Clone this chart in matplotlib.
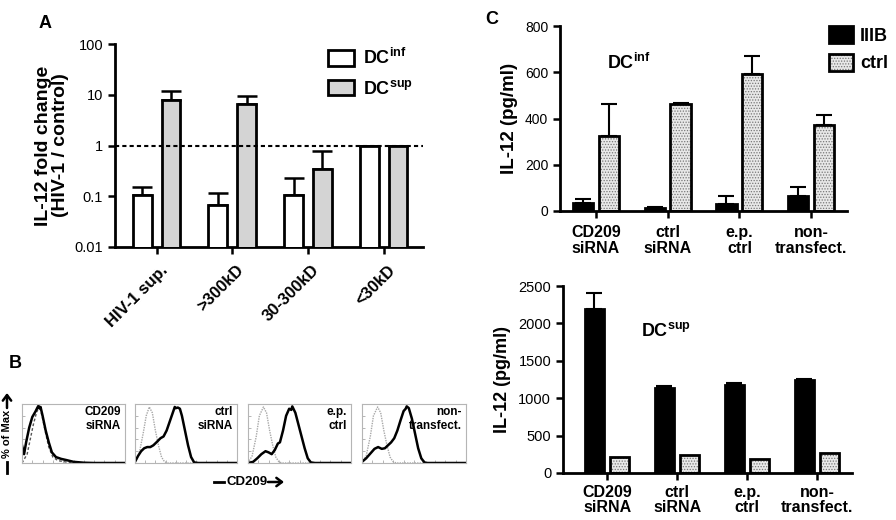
"""
IL-12 panels A, B, C - redraw of the figure
"""

import matplotlib
matplotlib.use("Agg")
import matplotlib.pyplot as plt
import matplotlib.transforms as mtransforms
from matplotlib.patches import Patch, FancyArrowPatch
from matplotlib.legend_handler import HandlerTuple

plt.rcParams['font.family'] = ['Liberation Sans', 'DejaVu Sans']
plt.rcParams['mathtext.fontset'] = 'custom'
plt.rcParams['mathtext.rm'] = 'Liberation Sans'
plt.rcParams['mathtext.bf'] = 'Liberation Sans:bold'
plt.rcParams['hatch.linewidth'] = 0.6

#==================== panel A data
a_cats = ["HIV-1 sup.", ">300kD", "30-300kD", "<30kD"]
a_inf = [0.105, 0.067, 0.105, 0.97]
a_inf_err = [0.045, 0.048, 0.125, 0.02]
a_sup = [7.8, 6.7, 0.35, 1.0]
a_sup_err = [3.9, 2.8, 0.42, 0.0]
a_yticks = [0.01, 0.1, 1, 10, 100]
a_ylabels = ["0.01", "0.1", "1", "10", "100"]

#==================== panel C data
c_cats = ["CD209\nsiRNA", "ctrl\nsiRNA", "e.p.\nctrl", "non-\ntransfect."]
c_inf_iiib = [36, 12, 31, 66]
c_inf_iiib_err = [14, 4, 34, 38]
c_inf_ctrl = [326, 461, 592, 372]
c_inf_ctrl_err = [135, 5, 79, 44]
c_sup_iiib = [2190, 1134, 1183, 1245]
c_sup_iiib_err = [210, 31, 17, 18]
c_sup_ctrl = [220, 245, 190, 265]

#==================== panel B histograms (fraction of box width, fraction of max)
b_titles = ["CD209\nsiRNA", "ctrl\nsiRNA", "e.p.\nctrl", "non-\ntransfect."]

b1_x = [0.0, 0.02, 0.04, 0.07, 0.10, 0.13, 0.15, 0.16, 0.17, 0.18, 0.20, 0.23, 0.26,
        0.29, 0.33, 0.38, 0.43, 0.50, 0.60, 0.70, 1.0]
b1_y = [0.30, 0.15, 0.35, 0.60, 0.78, 0.87, 0.94, 0.97, 0.93, 0.95, 0.80, 0.55, 0.35,
        0.18, 0.10, 0.07, 0.05, 0.02, 0.005, 0.0, 0.0]
b1_ref_x = [0.0, 0.05, 0.08, 0.11, 0.14, 0.16, 0.18, 0.20, 0.23, 0.26, 0.30, 0.35,
            0.45, 0.55, 1.0]
b1_ref_y = [0.0, 0.15, 0.40, 0.65, 0.85, 0.93, 0.90, 0.75, 0.50, 0.27, 0.10, 0.04,
            0.01, 0.0, 0.0]

b2_x = [0.0, 0.03, 0.06, 0.09, 0.12, 0.15, 0.18, 0.21, 0.25, 0.28, 0.31, 0.34, 0.37,
        0.39, 0.40, 0.42, 0.44, 0.46, 0.49, 0.52, 0.55, 0.58, 0.62, 1.0]
b2_y = [0.02, 0.12, 0.20, 0.25, 0.27, 0.27, 0.30, 0.35, 0.42, 0.45, 0.55, 0.70, 0.85,
        0.95, 0.93, 0.94, 0.92, 0.80, 0.55, 0.30, 0.10, 0.01, 0.0, 0.0]
b2_ref_x = [0.0, 0.04, 0.08, 0.11, 0.14, 0.17, 0.20, 0.23, 0.26, 0.29, 0.32, 1.0]
b2_ref_y = [0.02, 0.15, 0.50, 0.80, 0.95, 0.85, 0.55, 0.30, 0.10, 0.02, 0.0, 0.0]

b3_x = [0.0, 0.05, 0.09, 0.13, 0.17, 0.20, 0.23, 0.26, 0.29, 0.31, 0.34, 0.37, 0.40,
        0.42, 0.43, 0.46, 0.49, 0.52, 0.55, 0.58, 0.61, 0.65, 1.0]
b3_y = [0.0, 0.02, 0.08, 0.15, 0.20, 0.18, 0.15, 0.22, 0.33, 0.35, 0.55, 0.80, 0.92,
        0.90, 0.96, 0.85, 0.65, 0.45, 0.25, 0.08, 0.01, 0.0, 0.0]
b3_ref_x = [0.0, 0.04, 0.08, 0.11, 0.15, 0.18, 0.21, 0.24, 0.27, 0.30, 0.33, 1.0]
b3_ref_y = [0.0, 0.12, 0.45, 0.80, 0.95, 0.85, 0.55, 0.30, 0.10, 0.02, 0.0, 0.0]

b4_x = [0.0, 0.04, 0.08, 0.12, 0.155, 0.19, 0.22, 0.25, 0.28, 0.31, 0.34, 0.37, 0.40,
        0.42, 0.43, 0.45, 0.48, 0.51, 0.54, 0.57, 0.60, 0.63, 1.0]
b4_y = [0.02, 0.08, 0.16, 0.24, 0.27, 0.24, 0.25, 0.30, 0.35, 0.42, 0.55, 0.72, 0.88,
        0.92, 0.96, 0.93, 0.75, 0.50, 0.25, 0.08, 0.01, 0.0, 0.0]
b4_ref_x = b3_ref_x
b4_ref_y = [0.01, 0.12, 0.45, 0.80, 0.95, 0.85, 0.55, 0.30, 0.10, 0.02, 0.0, 0.0]

b_black = [(b1_x, b1_y), (b2_x, b2_y), (b3_x, b3_y), (b4_x, b4_y)]
b_gray = [(b1_ref_x, b1_ref_y), (b2_ref_x, b2_ref_y), (b3_ref_x, b3_ref_y), (b4_ref_x, b4_ref_y)]

W, H = 896, 520
fig = plt.figure(figsize=(W / 100, H / 100), dpi=100)


def px_axes(left, top, right, bottom):
    return fig.add_axes([left / W, 1 - bottom / H, (right - left) / W, (bottom - top) / H])


def fpt(x, y):
    # pixel position (from top-left) to figure fraction
    return (x / W, 1 - y / H)


def styleBarAxes(ax, labelsize=10.5):
    for s in ["top", "right"]:
        ax.spines[s].set_visible(False)
    for s in ["left", "bottom"]:
        ax.spines[s].set_linewidth(2)
    ax.tick_params(axis="both", width=1.8, length=5, labelsize=labelsize)


def dottedBars(ax, x, vals, width):
    ax.bar(x, vals, width, color="#e8e8e8", edgecolor="#777777", hatch="......", linewidth=0, zorder=2)
    ax.bar(x, vals, width, fill=False, edgecolor="black", linewidth=2, zorder=3)


#==================== A
axA = px_axes(115, 44, 423, 247)
styleBarAxes(axA, 10.5)
xs = range(len(a_cats))
bw = 0.25
off = 0.19
xi = [i - off for i in xs]
xsu = [i + off for i in xs]
axA.bar(xi, a_inf, bw, color="white", edgecolor="black", linewidth=2, zorder=3)
axA.bar(xsu, a_sup, bw, color="#d4d4d4", edgecolor="black", linewidth=2, zorder=3)
axA.errorbar(xi, a_inf, yerr=[[0] * 4, a_inf_err], fmt="none", ecolor="black",
             elinewidth=1.8, capsize=7, capthick=1.8, zorder=2)
axA.errorbar(xsu, a_sup, yerr=[[0] * 4, a_sup_err], fmt="none", ecolor="black",
             elinewidth=1.8, capsize=7, capthick=1.8, zorder=2)
axA.set_yscale("log")
axA.set_ylim(0.01, 100)
axA.set_xlim(-0.55, 3.52)
axA.set_yticks(a_yticks)
axA.set_yticklabels(a_ylabels)
axA.minorticks_off()
axA.axhline(1, color="black", linestyle=(0, (2, 1.5)), linewidth=1.5, zorder=4)
axA.set_xticks(list(xs))
axA.set_xticklabels(a_cats, rotation=45, ha="right", va="center", rotation_mode="anchor",
                    fontweight="bold", fontsize=12)
shift = mtransforms.ScaledTranslation(9 / 100, -9 / 100, fig.dpi_scale_trans)
for lab in axA.get_xticklabels():
    lab.set_transform(lab.get_transform() + shift)
axA.set_ylabel("IL-12 fold change\n(HIV-1 / control)", fontweight="bold", fontsize=14,
               linespacing=1.0, labelpad=4)
hA = [Patch(facecolor="white", edgecolor="black", linewidth=2),
      Patch(facecolor="#d4d4d4", edgecolor="black", linewidth=2)]
axA.legend(hA, [r"DC$^{\mathbf{inf}}$", r"DC$^{\mathbf{sup}}$"], loc="upper left",
           bbox_to_anchor=(0.64, 1.06), frameon=False, handlelength=1.4, handleheight=0.95,
           prop={"weight": "bold", "size": 13}, labelspacing=0.65, handletextpad=0.5)
fig.text(*fpt(45, 23), "A", fontweight="bold", fontsize=13, ha="center", va="center")

#==================== C top
axC1 = px_axes(560, 26, 847, 211)
styleBarAxes(axC1, 10)
cw = 0.28
co = 0.18
cx1 = [i - co for i in xs]
cx2 = [i + co for i in xs]
axC1.bar(cx1, c_inf_iiib, cw, color="black", edgecolor="black", linewidth=2, zorder=3)
dottedBars(axC1, cx2, c_inf_ctrl, cw)
axC1.errorbar(cx1, c_inf_iiib, yerr=[[0] * 4, c_inf_iiib_err], fmt="none", ecolor="black",
              elinewidth=1.5, capsize=6, capthick=1.5, zorder=2)
axC1.errorbar(cx2, c_inf_ctrl, yerr=[[0] * 4, c_inf_ctrl_err], fmt="none", ecolor="black",
              elinewidth=1.5, capsize=6, capthick=1.5, zorder=2)
axC1.set_ylim(0, 800)
axC1.set_xlim(-0.5, 3.5)
axC1.set_yticks([0, 200, 400, 600, 800])
axC1.set_xticks(list(xs))
axC1.set_xticklabels(c_cats, fontweight="bold", fontsize=11.5, linespacing=1.1)
axC1.tick_params(axis="x", pad=5)
axC1.set_ylabel("IL-12 (pg/ml)", fontweight="bold", fontsize=13.5, labelpad=5)
axC1.text(0.165, 0.80, r"DC$^{\mathbf{inf}}$", transform=axC1.transAxes, fontweight="bold",
          fontsize=13, va="center")
fig.text(*fpt(492, 20), "C", fontweight="bold", fontsize=13, ha="center", va="center")

p_black = Patch(facecolor="black", edgecolor="black", linewidth=2)
p_dot = Patch(facecolor="#e8e8e8", edgecolor="#777777", hatch="......", linewidth=0)
p_edge = Patch(fill=False, edgecolor="black", linewidth=2)
fig.legend([p_black, (p_dot, p_edge)], ["IIIB", "ctrl"], loc="upper left",
           bbox_to_anchor=fpt(813, 10), frameon=False, handlelength=1.3,
           handleheight=1.05, prop={"weight": "bold", "size": 13}, labelspacing=0.5,
           handletextpad=0.4, handler_map={tuple: HandlerTuple(ndivide=1, pad=0)})

#==================== C bottom
axC2 = px_axes(563, 286, 852, 473)
styleBarAxes(axC2, 10.5)
axC2.bar(cx1, c_sup_iiib, cw, color="black", edgecolor="black", linewidth=2, zorder=3)
dottedBars(axC2, cx2, c_sup_ctrl, cw)
axC2.errorbar(cx1, c_sup_iiib, yerr=[[0] * 4, c_sup_iiib_err], fmt="none", ecolor="black",
              elinewidth=1.5, capsize=6, capthick=1.5, zorder=2)
axC2.set_ylim(0, 2500)
axC2.set_xlim(-0.63, 3.5)
axC2.set_yticks([0, 500, 1000, 1500, 2000, 2500])
axC2.set_xticks(list(xs))
axC2.set_xticklabels(c_cats, fontweight="bold", fontsize=11.5, linespacing=1.05)
axC2.set_ylabel("IL-12 (pg/ml)", fontweight="bold", fontsize=13, labelpad=5)
axC2.text(0.27, 0.76, r"DC$^{\mathbf{sup}}$", transform=axC2.transAxes, fontweight="bold",
          fontsize=13, va="center")

#==================== B
box_x = [(22, 125), (135, 237), (248, 351), (362, 466)]
for i, (l, r) in enumerate(box_x):
    ax = px_axes(l, 404, r, 463)
    bx, by = b_black[i]
    gx, gy = b_gray[i]
    if i == 0:
        ax.plot(gx, gy, color="#555555", linestyle=(0, (2, 1.5)), linewidth=1.0)
    else:
        ax.plot(gx, gy, color="#a8a8a8", linestyle=(0, (1, 0.8)), linewidth=1.0)
    ax.plot(bx, by, color="black", linewidth=1.8)
    ax.set_xlim(0, 1)
    ax.set_ylim(0, 1.0)
    for s in ax.spines.values():
        s.set_color("#b5b5b5")
        s.set_linewidth(0.8)
    ax.set_xticks([j / 10 for j in range(11)])
    ax.set_yticks([j / 5 for j in range(6)])
    ax.tick_params(length=2, width=0.5, color="#999999", direction="in",
                   labelbottom=False, labelleft=False)
    ax.text(0.96, 0.96, b_titles[i], transform=ax.transAxes, ha="right", va="top",
            fontweight="bold", fontsize=8.5, linespacing=1.2)

fig.text(*fpt(15, 363), "B", fontweight="bold", fontsize=13, ha="center", va="center")
# y axis caption: bar, text, arrow
fig.text(*fpt(7, 434), "% of Max", rotation=90, fontweight="bold", fontsize=8,
         ha="center", va="center")
fig.add_artist(FancyArrowPatch(fpt(7, 408), fpt(7, 393), transform=fig.transFigure,
                               arrowstyle="->,head_length=4,head_width=3", lw=1.8, color="black",
                               mutation_scale=1, shrinkA=0, shrinkB=0))
fig.add_artist(plt.Line2D([7 / W, 7 / W], [1 - 462 / H, 1 - 473 / H], color="black", lw=2))
# x axis caption
fig.add_artist(plt.Line2D([214 / W, 224 / W], [1 - 482 / H, 1 - 482 / H], color="black", lw=2))
fig.text(*fpt(247, 482), "CD209", fontweight="bold", fontsize=9.5, ha="center", va="center")
fig.add_artist(FancyArrowPatch(fpt(268, 482), fpt(284, 482), transform=fig.transFigure,
                               arrowstyle="->,head_length=4,head_width=3", lw=1.8, color="black",
                               mutation_scale=1, shrinkA=0, shrinkB=0))

plt.savefig("out.png", dpi=100)
